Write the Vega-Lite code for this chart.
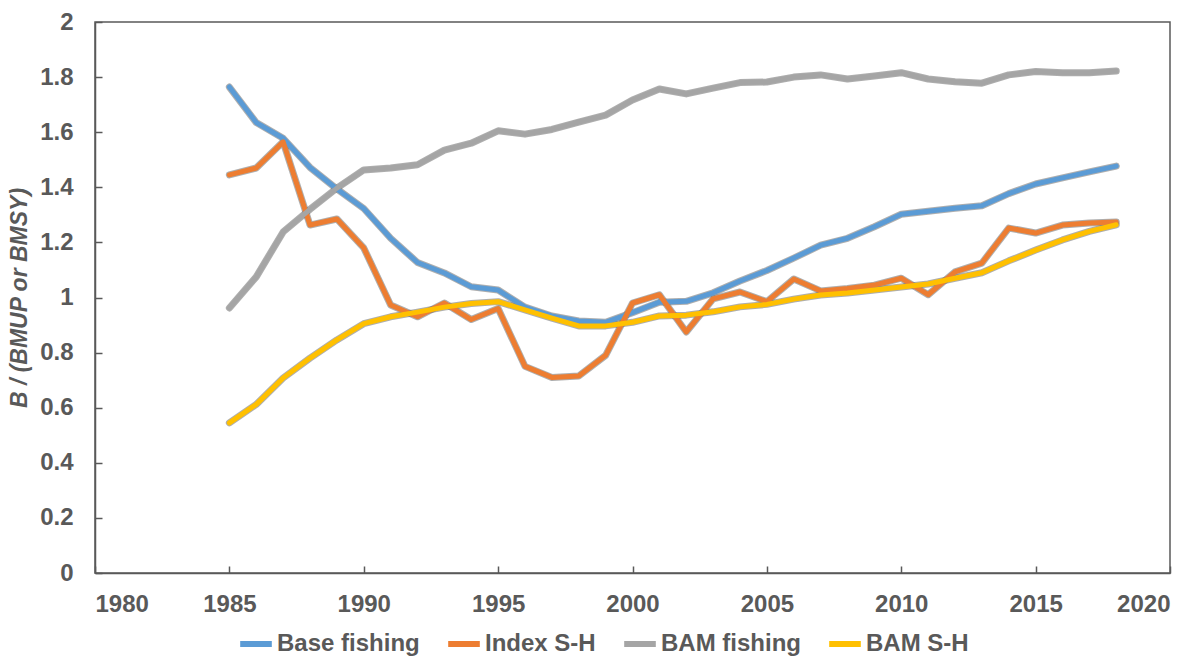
{
  "$schema": "https://vega.github.io/schema/vega-lite/v6.json",
  "autosize": {"type": "none"},
  "width": 1075,
  "height": 551,
  "padding": {"left": 95, "top": 22, "right": 29, "bottom": 83},
  "background": "white",
  "config": {
    "view": {"stroke": "#595959", "strokeWidth": 1.5},
    "font": "Liberation Sans",
    "axis": {
      "labelFont": "Liberation Sans",
      "labelFontWeight": "bold",
      "labelFontSize": 24,
      "labelColor": "#595959",
      "titleFont": "Liberation Sans",
      "titleColor": "#595959",
      "domainColor": "#595959",
      "domainWidth": 1.5,
      "tickColor": "#595959",
      "tickWidth": 1.5,
      "tickSize": -7,
      "grid": false
    },
    "legend": {
      "labelFont": "Liberation Sans",
      "labelFontWeight": "bold",
      "labelFontSize": 24,
      "labelColor": "#595959"
    }
  },
  "data": {
    "values": [
      {"year": 1985, "Base fishing": 1.764, "Index S-H": 1.445, "BAM fishing": 0.962, "BAM S-H": 0.545},
      {"year": 1986, "Base fishing": 1.635, "Index S-H": 1.47, "BAM fishing": 1.075, "BAM S-H": 0.612},
      {"year": 1987, "Base fishing": 1.578, "Index S-H": 1.565, "BAM fishing": 1.238, "BAM S-H": 0.708},
      {"year": 1988, "Base fishing": 1.472, "Index S-H": 1.263, "BAM fishing": 1.32, "BAM S-H": 0.78},
      {"year": 1989, "Base fishing": 1.394, "Index S-H": 1.285, "BAM fishing": 1.397, "BAM S-H": 0.846},
      {"year": 1990, "Base fishing": 1.323, "Index S-H": 1.18, "BAM fishing": 1.463, "BAM S-H": 0.905},
      {"year": 1991, "Base fishing": 1.215, "Index S-H": 0.973, "BAM fishing": 1.47, "BAM S-H": 0.93},
      {"year": 1992, "Base fishing": 1.127, "Index S-H": 0.93, "BAM fishing": 1.482, "BAM S-H": 0.947},
      {"year": 1993, "Base fishing": 1.089, "Index S-H": 0.98, "BAM fishing": 1.535, "BAM S-H": 0.965},
      {"year": 1994, "Base fishing": 1.039, "Index S-H": 0.92, "BAM fishing": 1.56, "BAM S-H": 0.978},
      {"year": 1995, "Base fishing": 1.027, "Index S-H": 0.96, "BAM fishing": 1.605, "BAM S-H": 0.985},
      {"year": 1996, "Base fishing": 0.965, "Index S-H": 0.75, "BAM fishing": 1.593, "BAM S-H": 0.955},
      {"year": 1997, "Base fishing": 0.933, "Index S-H": 0.71, "BAM fishing": 1.61, "BAM S-H": 0.925},
      {"year": 1998, "Base fishing": 0.915, "Index S-H": 0.715, "BAM fishing": 1.637, "BAM S-H": 0.897},
      {"year": 1999, "Base fishing": 0.91, "Index S-H": 0.79, "BAM fishing": 1.662, "BAM S-H": 0.897},
      {"year": 2000, "Base fishing": 0.945, "Index S-H": 0.98, "BAM fishing": 1.717, "BAM S-H": 0.91},
      {"year": 2001, "Base fishing": 0.983, "Index S-H": 1.01, "BAM fishing": 1.757, "BAM S-H": 0.933},
      {"year": 2002, "Base fishing": 0.986, "Index S-H": 0.875, "BAM fishing": 1.739, "BAM S-H": 0.936},
      {"year": 2003, "Base fishing": 1.017, "Index S-H": 0.995, "BAM fishing": 1.76, "BAM S-H": 0.948},
      {"year": 2004, "Base fishing": 1.06, "Index S-H": 1.02, "BAM fishing": 1.78, "BAM S-H": 0.966},
      {"year": 2005, "Base fishing": 1.098, "Index S-H": 0.985, "BAM fishing": 1.782, "BAM S-H": 0.975},
      {"year": 2006, "Base fishing": 1.143, "Index S-H": 1.067, "BAM fishing": 1.8, "BAM S-H": 0.994},
      {"year": 2007, "Base fishing": 1.19, "Index S-H": 1.024, "BAM fishing": 1.808, "BAM S-H": 1.009},
      {"year": 2008, "Base fishing": 1.215, "Index S-H": 1.033, "BAM fishing": 1.793, "BAM S-H": 1.016},
      {"year": 2009, "Base fishing": 1.257, "Index S-H": 1.045, "BAM fishing": 1.804, "BAM S-H": 1.027},
      {"year": 2010, "Base fishing": 1.302, "Index S-H": 1.07, "BAM fishing": 1.816, "BAM S-H": 1.038},
      {"year": 2011, "Base fishing": 1.313, "Index S-H": 1.01, "BAM fishing": 1.793, "BAM S-H": 1.049},
      {"year": 2012, "Base fishing": 1.324, "Index S-H": 1.093, "BAM fishing": 1.783, "BAM S-H": 1.07},
      {"year": 2013, "Base fishing": 1.333, "Index S-H": 1.125, "BAM fishing": 1.778, "BAM S-H": 1.09},
      {"year": 2014, "Base fishing": 1.377, "Index S-H": 1.252, "BAM fishing": 1.808, "BAM S-H": 1.133},
      {"year": 2015, "Base fishing": 1.412, "Index S-H": 1.234, "BAM fishing": 1.82, "BAM S-H": 1.172},
      {"year": 2016, "Base fishing": 1.434, "Index S-H": 1.263, "BAM fishing": 1.816, "BAM S-H": 1.209},
      {"year": 2017, "Base fishing": 1.456, "Index S-H": 1.27, "BAM fishing": 1.816, "BAM S-H": 1.24},
      {"year": 2018, "Base fishing": 1.477, "Index S-H": 1.274, "BAM fishing": 1.822, "BAM S-H": 1.264}
    ]
  },
  "transform": [
    {"fold": ["Base fishing", "Index S-H", "BAM fishing", "BAM S-H"], "as": ["series", "value"]}
  ],
  "encoding": {
    "x": {
      "field": "year",
      "type": "quantitative",
      "scale": {"domain": [1980, 2020], "nice": false, "zero": false},
      "axis": {"values": [1980, 1985, 1990, 1995, 2000, 2005, 2010, 2015, 2020], "format": "d", "title": null, "labelPadding": 26}
    },
    "y": {
      "field": "value",
      "type": "quantitative",
      "scale": {"domain": [0, 2], "nice": false},
      "axis": {
        "values": [0, 0.2, 0.4, 0.6, 0.8, 1, 1.2, 1.4, 1.6, 1.8, 2],
        "format": "~g",
        "labelPadding": 29,
        "title": "B / (BMUP or BMSY)",
        "titleFontStyle": "italic",
        "titleFontWeight": "bold",
        "titleFontSize": 23,
        "titlePadding": 8
      }
    }
  },
  "layer": [
    {
      "mark": {"type": "line", "strokeWidth": 7, "strokeCap": "round", "strokeJoin": "round", "opacity": 0.55},
      "encoding": {
        "detail": {"field": "series"},
        "color": {"value": "#6b6b6b"}
      }
    },
    {
      "mark": {"type": "line", "strokeWidth": 5, "strokeCap": "round", "strokeJoin": "round"},
      "encoding": {
        "color": {
          "field": "series",
          "type": "nominal",
          "sort": ["Base fishing", "Index S-H", "BAM fishing", "BAM S-H"],
          "scale": {"domain": ["Base fishing", "Index S-H", "BAM fishing", "BAM S-H"], "range": ["#5B9BD5", "#ED7D31", "#A5A5A5", "#FFC000"]},
          "legend": {
            "title": null,
            "orient": "none",
            "direction": "horizontal",
            "legendX": 142,
            "legendY": 603,
            "symbolType": "stroke",
            "symbolSize": 1000,
            "symbolStrokeWidth": 6,
            "labelOffset": 2,
            "columnPadding": 16
          }
        }
      }
    }
  ]
}
